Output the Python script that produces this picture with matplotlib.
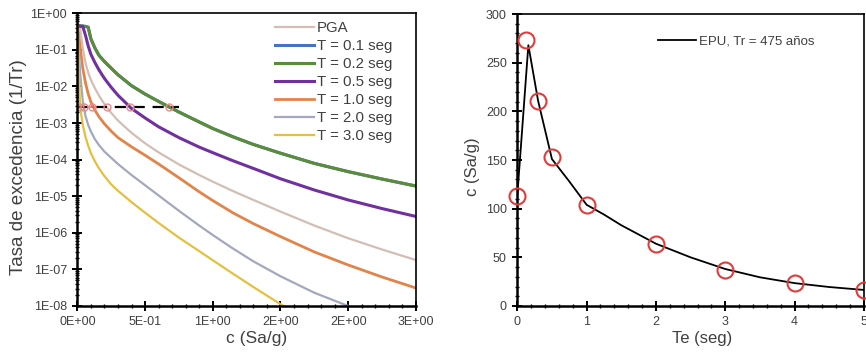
import matplotlib
matplotlib.use("Agg")
from matplotlib import pyplot as plt
from matplotlib.ticker import FixedLocator, MultipleLocator, LogLocator, NullFormatter

plt.rcParams["font.family"] = ["Liberation Sans", "DejaVu Sans"]

# ---- left panel: hazard curves (rate of exceedance vs c) ----
c_grid = [0.0, 0.02, 0.04, 0.06, 0.08, 0.1, 0.13, 0.16, 0.2, 0.25, 0.3, 0.4, 0.5, 0.6,
          0.75, 0.9, 1.0, 1.15, 1.3, 1.5, 1.75, 2.0, 2.25, 2.5]

rate_pga = [0.447, 0.398, 0.112, 0.0447, 0.024, 0.0151, 8.9e-3, 5.6e-3, 3.3e-3, 1.9e-3,
            1.17e-3, 5.4e-4, 2.8e-4, 1.58e-4, 7.4e-5, 3.8e-5, 2.5e-5, 1.38e-5, 7.9e-6,
            3.8e-6, 1.58e-6, 7.1e-7, 3.5e-7, 1.8e-7]
rate_t01 = [0.447, 0.447, 0.447, 0.437, 0.417, 0.2, 0.112, 0.0708, 0.0479, 0.0316,
            0.0209, 0.0105, 6.2e-3, 3.9e-3, 2.0e-3, 1.07e-3, 7.1e-4, 4.2e-4, 2.6e-4,
            1.5e-4, 7.9e-5, 4.7e-5, 2.95e-5, 1.9e-5]
rate_t02 = [0.447, 0.447, 0.447, 0.437, 0.417, 0.2, 0.112, 0.0708, 0.0479, 0.0316,
            0.0209, 0.0105, 6.2e-3, 3.9e-3, 2.0e-3, 1.07e-3, 7.1e-4, 4.2e-4, 2.6e-4,
            1.5e-4, 7.9e-5, 4.7e-5, 2.95e-5, 1.9e-5]
rate_t05 = [0.447, 0.447, 0.437, 0.251, 0.129, 0.0759, 0.0447, 0.0282, 0.0166, 9.5e-3,
            5.75e-3, 2.5e-3, 1.38e-3, 7.9e-4, 4.0e-4, 2.2e-4, 1.55e-4, 9.3e-5, 5.75e-5,
            3.0e-5, 1.48e-5, 7.9e-6, 4.6e-6, 2.8e-6]
rate_t10 = [0.447, 0.126, 0.0316, 0.0126, 6.3e-3, 3.8e-3, 2.24e-3, 1.48e-3, 9.5e-4, 6.0e-4,
            4.0e-4, 2.24e-4, 1.32e-4, 7.6e-5, 3.2e-5, 1.32e-5, 7.6e-6, 3.5e-6, 1.78e-6,
            7.9e-7, 3.0e-7, 1.32e-7, 6.2e-8, 3.1e-8]
rate_t20 = [0.447, 0.0251, 3.98e-3, 1.58e-3, 8.9e-4, 5.9e-4, 3.6e-4, 2.5e-4, 1.66e-4, 1.12e-4,
            7.6e-5, 3.8e-5, 2.0e-5, 1.05e-5, 4.0e-6, 1.58e-6, 8.7e-7, 3.7e-7, 1.66e-7,
            6.5e-8, 2.3e-8, 1.0e-8, 4.7e-9, 2.3e-9]
rate_t30 = [0.447, 2.8e-3, 8.9e-4, 4.2e-4, 2.4e-4, 1.51e-4, 8.9e-5, 5.75e-5, 3.55e-5, 2.1e-5,
            1.41e-5, 6.9e-6, 3.55e-6, 1.86e-6, 7.4e-7, 3.16e-7, 1.78e-7, 7.6e-8, 3.3e-8,
            1.12e-8, 3.5e-9, 1.4e-9, 6e-10, 3e-10]

curve_labels = ["PGA", "T = 0.1 seg", "T = 0.2 seg", "T = 0.5 seg",
                "T = 1.0 seg", "T = 2.0 seg", "T = 3.0 seg"]
curve_colors = ["#d2beb4", "#4472c4", "#5b8c3a", "#7030a0", "#e2844a", "#a3a8bd", "#e5c040"]
curve_widths = [1.6, 2.2, 2.2, 2.2, 2.0, 1.6, 1.6]

rate_475 = 2.7e-3
c_dash = [0.0, 0.75]
c_cross = [0.02, 0.05, 0.11, 0.22, 0.39, 0.68]

x_ticks = [0.0, 0.5, 1.0, 1.5, 2.0, 2.5]
x_ticklabels = ["0E+00", "5E-01", "1E+00", "2E+00", "2E+00", "3E+00"]
y_ticks = [1e0, 1e-1, 1e-2, 1e-3, 1e-4, 1e-5, 1e-6, 1e-7, 1e-8]
y_ticklabels = ["1E+00", "1E-01", "1E-02", "1E-03", "1E-04", "1E-05", "1E-06", "1E-07", "1E-08"]

# ---- right panel: uniform hazard spectrum ----
te_pts = [0.0, 0.12, 0.3, 0.5, 1.0, 2.0, 3.0, 4.0, 5.0]
c_pts = [113, 273, 211, 153, 104, 64, 37, 24, 16]
te_line = [0.0, 0.16, 0.3, 0.5, 0.75, 1.0, 1.25, 1.5, 2.0, 2.5, 3.0, 3.5, 4.0, 4.5, 5.0]
c_line = [113, 268, 211, 151, 128, 104, 94, 83, 64, 50, 38, 29.5, 23.5, 19.5, 16.5]

txt = "#404040"

fig = plt.figure(figsize=(8.66, 3.62), dpi=100)
ax1 = fig.add_axes([0.0893, 0.1547, 0.391, 0.8086])
ax2 = fig.add_axes([0.5973, 0.1547, 0.4003, 0.8066])

series = [rate_pga, rate_t01, rate_t02, rate_t05, rate_t10, rate_t20, rate_t30]
for rates, lab, col, lw in zip(series, curve_labels, curve_colors, curve_widths):
    ax1.plot(c_grid, rates, color=col, lw=lw, label=lab, solid_joinstyle="round")

ax1.plot(c_dash, [rate_475, rate_475], color="black", lw=1.6, ls=(0, (5, 3.5)))
ax1.plot([0.0, 0.13], [rate_475, rate_475], color="#e06060", lw=1.4, ls=(0, (3, 3)), alpha=0.8)
ax1.plot(c_cross, [rate_475] * len(c_cross), ls="none", marker="o", ms=5,
         mfc="none", mec="#e88a8a", mew=1.0)

ax1.set_yscale("log")
ax1.set_xlim(0, 2.5)
ax1.set_ylim(1e-8, 1e0)
ax1.xaxis.set_major_locator(FixedLocator(x_ticks))
ax1.set_xticklabels(x_ticklabels)
ax1.xaxis.set_minor_locator(MultipleLocator(0.1))
ax1.yaxis.set_major_locator(FixedLocator(y_ticks))
ax1.set_yticklabels(y_ticklabels)
ax1.yaxis.set_minor_locator(LogLocator(base=10, subs=range(2, 10), numticks=20))
ax1.yaxis.set_minor_formatter(NullFormatter())
ax1.set_xlabel("c (Sa/g)", fontsize=12.5, color=txt)
ax1.set_ylabel("Tasa de excedencia (1/Tr)", fontsize=13.5, color=txt)
ax1.xaxis.set_label_coords(0.53, -0.085)
ax1.yaxis.set_label_coords(-0.148, 0.474)
ax1.legend(loc="upper left", bbox_to_anchor=(0.585, 0.972), frameon=False, fontsize=10.8,
           handlelength=2.6, handletextpad=0.15, labelspacing=0.26, borderpad=0,
           borderaxespad=0, labelcolor=txt)

ax2.plot(te_line, c_line, color="black", lw=1.3, label="EPU, Tr = 475 años", zorder=3)
ax2.plot(te_pts, c_pts, ls="none", marker="o", ms=11.5, mfc="none", mec="#e23b3b",
         mew=1.5, clip_on=False, zorder=4)
ax2.set_xlim(0, 5)
ax2.set_ylim(0, 300)
ax2.xaxis.set_major_locator(MultipleLocator(1))
ax2.xaxis.set_minor_locator(MultipleLocator(0.2))
ax2.yaxis.set_major_locator(MultipleLocator(50))
ax2.yaxis.set_minor_locator(MultipleLocator(10))
ax2.set_xlabel("Te (seg)", fontsize=12, color=txt)
ax2.set_ylabel("c (Sa/g)", fontsize=12, color=txt)
ax2.xaxis.set_label_coords(0.533, -0.085)
ax2.yaxis.set_label_coords(-0.108, 0.476)
ax2.legend(loc="upper left", bbox_to_anchor=(0.405, 0.928), frameon=False, fontsize=9.5,
           handlelength=2.9, handletextpad=0.2, borderpad=0, borderaxespad=0,
           labelcolor=txt)

for ax in (ax1, ax2):
    for side in ("top", "right"):
        ax.spines[side].set_linewidth(1.2)
    for side in ("left", "bottom"):
        ax.spines[side].set_linewidth(1.8)
    ax.tick_params(which="major", direction="inout", length=7, width=1.4,
                   labelsize=9, labelcolor=txt, pad=4)
    ax.tick_params(which="minor", direction="inout", length=3.5, width=1.0)

fig.savefig("out.png", dpi=100)
